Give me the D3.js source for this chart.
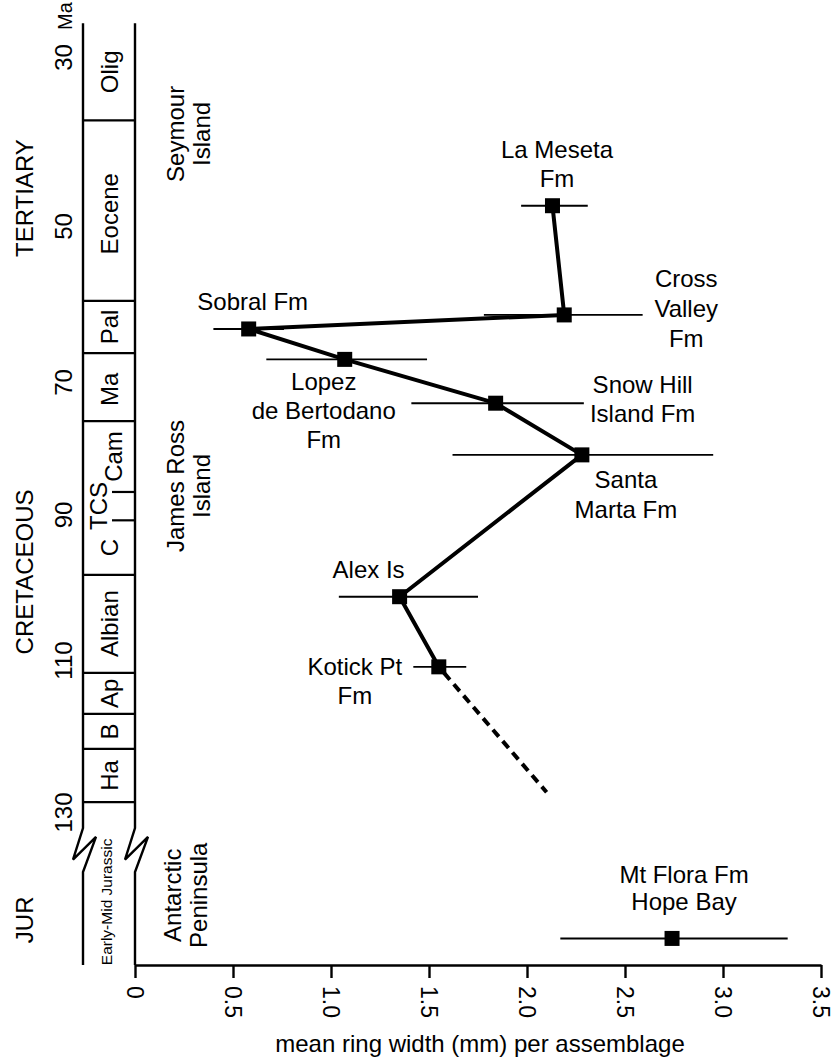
<!DOCTYPE html>
<html>
<head>
<meta charset="utf-8">
<script src="https://cdn.jsdelivr.net/npm/d3@7"></script>
<style>
  body { margin: 0; background: #fff; }
  svg { display: block; }
  text { font-family: "Liberation Sans", Arial, Helvetica, sans-serif; fill: #000; }
</style>
</head>
<body>
<svg id="chart" width="833" height="1061"></svg>
<script>
// ---- Fossil wood assemblages: age (Ma) and mean ring width (mm) ----
const formations = ["La Meseta Fm", "Cross Valley Fm", "Sobral Fm", "Lopez de Bertodano Fm",
  "Snow Hill Island Fm", "Santa Marta Fm", "Alex Is", "Kotick Pt Fm", "Mt Flora Fm Hope Bay"];
const labelLines = [["La Meseta", "Fm"], ["Cross", "Valley", "Fm"], ["Sobral Fm"],
  ["Lopez", "de Bertodano", "Fm"], ["Snow Hill", "Island Fm"], ["Santa", "Marta Fm"],
  ["Alex Is"], ["Kotick Pt", "Fm"], ["Mt Flora Fm", "Hope Bay"]];
const ages      = [47.6, 61.4, 63.2, 67.1, 73.2, 81.0, 101.3, 110.9, 180];
const meanWidth = [2.13, 2.19, 0.58, 1.07, 1.84, 2.28, 1.35, 1.55, 2.74];
const widthLow  = [1.97, 1.78, 0.40, 0.67, 1.41, 1.62, 1.04, 1.42, 2.17];
const widthHigh = [2.31, 2.59, 0.76, 1.49, 2.29, 2.95, 1.75, 1.69, 3.33];
const inSequence = [true, true, true, true, true, true, true, true, false];
// extrapolated trend below Kotick Pt
const trendAge = [110.9, 127.4];
const trendWidth = [1.55, 2.10];

// ---- axes ----
const widthTicks = [0, 0.5, 1.0, 1.5, 2.0, 2.5, 3.0, 3.5];
const ageTicks = [30, 50, 70, 90, 110, 130];

// ---- stratigraphic column ----
const stageNames = ["Olig", "Eocene", "Pal", "Ma", "Cam", "TCS", "C", "Albian", "Ap", "B", "Ha"];
const stageTop   = [26, 37.5, 59.6, 66.3, 75.9, 86.6, 90.8, 98.3, 111.7, 117.1, 121.7];
const stageBase  = [37.5, 59.6, 66.3, 75.9, 86.6, 90.8, 98.3, 111.7, 117.1, 121.7, 128.7];
const minorBounds = [86.6, 90.8];
const periodNames = ["TERTIARY", "CRETACEOUS", "JUR"];
const periodMid   = [46.7, 97.9, 177.2];
const regionNames = [["Seymour", "Island"], ["James Ross", "Island"], ["Antarctic", "Peninsula"]];
const regionMid   = [39.1, 85.7, 173.5];
const columnTop = 26, breakTop = 132, breakBottom = 170, columnBottom = 184;

// ---------------------------------------------------------------
const svg = d3.select("#chart");
const x = d3.scaleLinear().domain([0, 3.5]).range([135, 821]);
// the drafted time column is not uniform, so the age scale is piecewise,
// with a compressed break between the Cretaceous and the Jurassic
const y = d3.scaleLinear()
  .domain([30, 50, 70, 90, 110, 130, breakTop, breakBottom, columnBottom])
  .range([57, 226, 382, 514.5, 660, 812, 828, 872, 965]);

const colRight = x(0), colLeft = colRight - 52;
const big = 24;

// column side lines with break symbols
function sideLine(x0) {
  const t = y(breakTop), b = y(breakBottom), h = b - t;
  return `M${x0},${y(columnTop)}V${t}L${x0 - 10},${t + 0.72 * h}L${x0 + 13},${t + 0.2 * h}L${x0},${b}V${y(columnBottom)}`;
}
const col = svg.append("g");
[colLeft, colRight].forEach(cx => col.append("path").attr("d", sideLine(cx))
  .attr("fill", "none").attr("stroke", "#000").attr("stroke-width", 2.4));

// stage boundaries
col.selectAll("line.bound").data(stageBase.filter(a => !minorBounds.includes(a))).join("line")
  .attr("x1", colLeft).attr("x2", colRight).attr("y1", d => y(d)).attr("y2", d => y(d))
  .attr("stroke", "#000").attr("stroke-width", 2.2);
col.selectAll("line.minor").data(minorBounds).join("line")
  .attr("x1", colRight - 23).attr("x2", colRight).attr("y1", d => y(d)).attr("y2", d => y(d))
  .attr("stroke", "#000").attr("stroke-width", 2.2);

// stage names
const stageShift = { "Cam": 4, "TCS": -11 };
col.selectAll("text.stage").data(stageNames).join("text")
  .attr("transform", (d, i) => `translate(${(colLeft + colRight) / 2 + 8.6 + (stageShift[d] || 0)},${y((stageTop[i] + stageBase[i]) / 2)}) rotate(-90)`)
  .attr("text-anchor", "middle").attr("font-size", big).text(d => d);

// Jurassic label inside the column below the break
col.append("text")
  .attr("transform", `translate(112,${y(174.5)}) rotate(-90)`)
  .attr("text-anchor", "middle").attr("font-size", 15.5).text("Early-Mid Jurassic");

// periods
svg.selectAll("text.period").data(periodNames).join("text")
  .attr("transform", (d, i) => `translate(32.5,${y(periodMid[i])}) rotate(-90)`)
  .attr("text-anchor", "middle").attr("font-size", big).text(d => d);

// regions (two-line rotated labels)
const regions = svg.selectAll("text.region").data(regionNames).join("text")
  .attr("transform", (d, i) => `translate(${i === 2 ? 181 : 184},${y(regionMid[i])}) rotate(-90)`)
  .attr("text-anchor", "middle").attr("font-size", big);
regions.selectAll("tspan").data(d => d).join("tspan")
  .attr("x", 0).attr("y", (d, i) => i * 26).text(d => d);

// age labels
const yAxis = svg.append("g").attr("transform", "translate(63.5,0)")
  .call(d3.axisLeft(y).tickValues(ageTicks).tickSize(0).tickFormat(d3.format("d")));
yAxis.select(".domain").remove();
yAxis.selectAll("text")
  .attr("x", null).attr("dy", null)
  .attr("transform", "rotate(-90)")
  .attr("y", 0).attr("dy", "0.35em")
  .attr("text-anchor", "middle").attr("font-size", big)
  .attr("font-family", null).attr("fill", "#000");
// unit beside the topmost age
svg.append("text")
  .attr("transform", `translate(64.5,${y(ageTicks[0]) - 27}) rotate(-90)`)
  .attr("dy", "0.35em").attr("text-anchor", "start")
  .style("font-size", "20px")
  .text("Ma");

// x axis
const xAxis = svg.append("g").attr("transform", `translate(0,${y(columnBottom)})`)
  .call(d3.axisBottom(x).tickValues(widthTicks).tickSize(13).tickSizeOuter(0)
    .tickFormat(d => d === 0 ? "0" : d3.format(".1f")(d)));
xAxis.select(".domain").attr("stroke-width", 2.6);
xAxis.selectAll(".tick line").attr("stroke-width", 2.4);
xAxis.selectAll(".tick text")
  .attr("transform", "rotate(90)")
  .attr("x", 21).attr("y", 0).attr("dy", "0.35em")
  .attr("text-anchor", "start").attr("font-size", 23)
  .attr("font-family", null).attr("fill", "#000");

svg.append("text").attr("x", 480).attr("y", 1052).attr("text-anchor", "middle")
  .attr("font-size", big).text("mean ring width (mm) per assemblage");

// ---- data marks ----
const pts = formations.map((f, i) => ({ f, age: ages[i], w: meanWidth[i], lo: widthLow[i], hi: widthHigh[i], seq: inSequence[i], lines: labelLines[i] }));

const marks = svg.append("g");
marks.selectAll("line.err").data(pts).join("line")
  .attr("x1", d => x(d.lo)).attr("x2", d => x(d.hi))
  .attr("y1", d => y(d.age)).attr("y2", d => y(d.age))
  .attr("stroke", "#000").attr("stroke-width", 1.9);

const line = d3.line().x(d => x(d.w)).y(d => y(d.age));
marks.append("path").datum(pts.filter(d => d.seq))
  .attr("d", line).attr("fill", "none").attr("stroke", "#000")
  .attr("stroke-width", 4).attr("stroke-linejoin", "round");

marks.append("path").datum(trendAge.map((a, i) => ({ age: a, w: trendWidth[i] })))
  .attr("d", line).attr("fill", "none").attr("stroke", "#000")
  .attr("stroke-width", 4).attr("stroke-dasharray", "9,6").attr("stroke-dashoffset", -8);

const S = 15;
marks.selectAll("rect").data(pts).join("rect")
  .attr("x", d => x(d.w) - S / 2).attr("y", d => y(d.age) - S / 2)
  .attr("width", S).attr("height", S).attr("fill", "#000");

// formation labels, offset from their markers
const labelOffset = [[4.5, -48, 29], [122, -28, 30], [4, -19, 29], [-21, 31, 29], [147, -10, 29],
  [44, 33, 30], [-31, -19, 29], [-84, 8, 29], [12, -55, 27]];
const labels = marks.selectAll("text.lab").data(pts).join("text")
  .attr("transform", (d, i) => `translate(${x(d.w) + labelOffset[i][0]},${y(d.age) + labelOffset[i][1]})`)
  .attr("text-anchor", "middle").attr("font-size", big);
labels.selectAll("tspan").data((d, i) => d.lines.map(t => ({ t, gap: labelOffset[i][2] }))).join("tspan")
  .attr("x", 0).attr("y", (d, j) => j * d.gap).text(d => d.t);
</script>
</body>
</html>
